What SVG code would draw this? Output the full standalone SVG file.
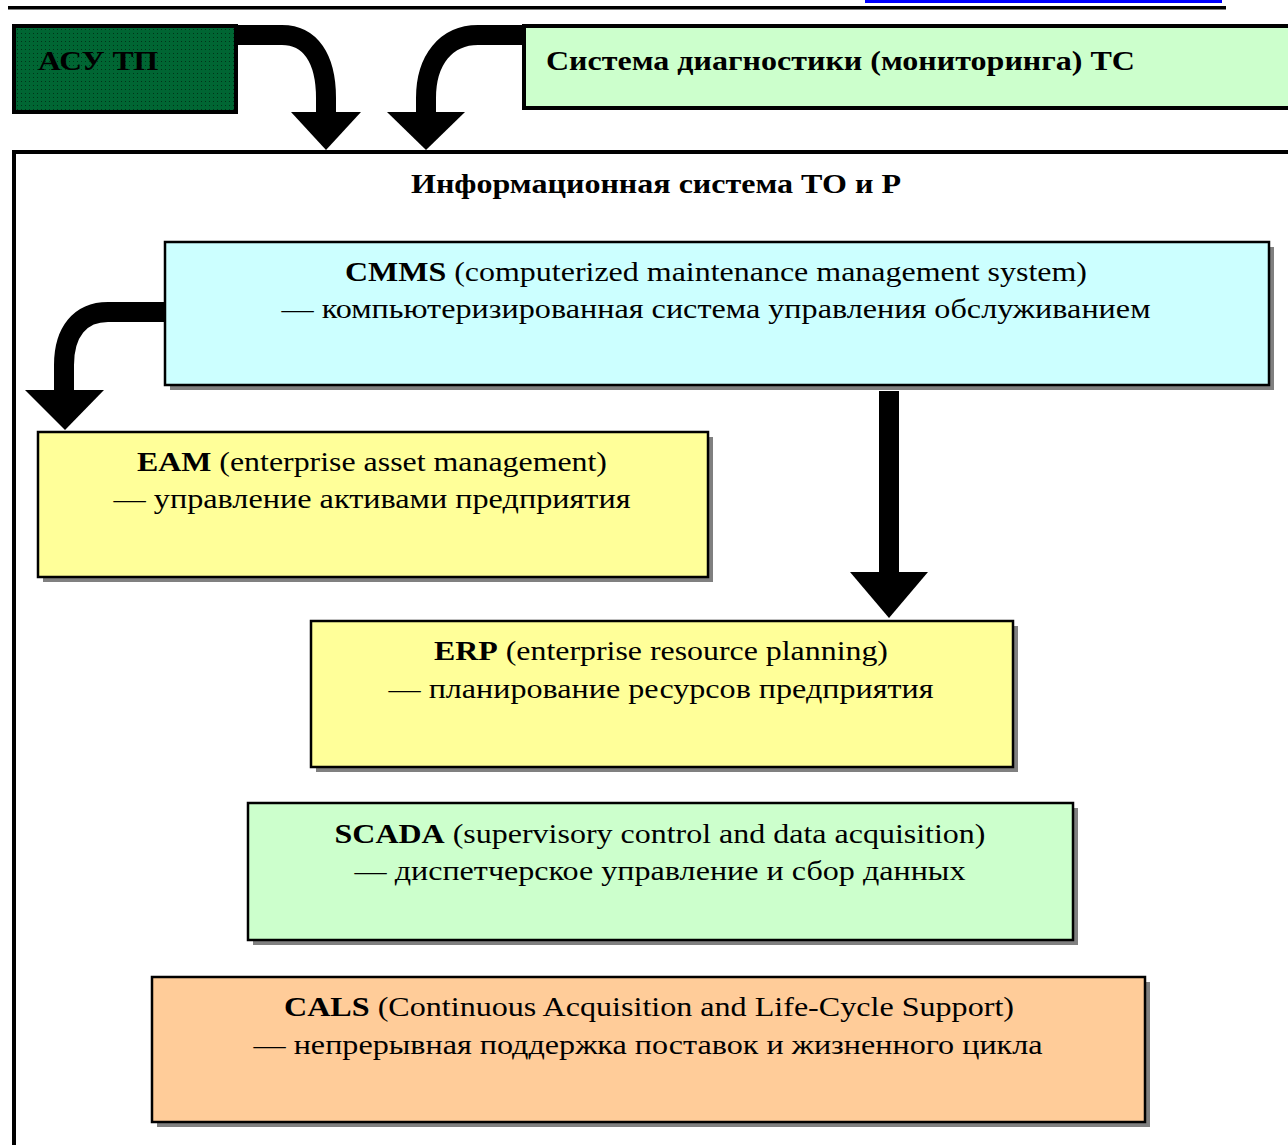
<svg xmlns="http://www.w3.org/2000/svg" width="1288" height="1145" viewBox="0 0 1288 1145">
<style>
.t{font-family:"Liberation Serif","Times New Roman",serif;font-size:28px;fill:#000}
.b{font-weight:bold}
.box{stroke:#000;stroke-width:2.5}
.sh{fill:#808080}
.shaft{fill:none;stroke:#000;stroke-width:20}
.head{fill:#000}
</style>
<defs>
<pattern id="dots" width="4" height="4" patternUnits="userSpaceOnUse">
<rect width="4" height="4" fill="#006633"/>
<rect x="1" y="1" width="1" height="1" fill="#003318"/>
</pattern>
</defs>
<rect x="865" y="0" width="357" height="3" fill="#0000ff"/>
<rect x="8" y="6" width="1218" height="3.5" fill="#000"/>

<g id="container">
<path d="M14,1145 V152 H1288" fill="none" stroke="#000" stroke-width="4"/>
<text class="t b" x="656" y="193" text-anchor="middle" textLength="490" lengthAdjust="spacingAndGlyphs">Информационная система ТО и Р</text>
</g>

<g id="asutp">
<rect x="14" y="26" width="222" height="86" fill="url(#dots)" stroke="#000" stroke-width="4"/>
<text class="t b" x="38" y="70" textLength="120" lengthAdjust="spacingAndGlyphs">АСУ ТП</text>
</g>

<g id="diag">
<rect x="524" y="26" width="770" height="82" fill="#ccffcc" stroke="#000" stroke-width="4"/>
<text class="t b" x="546" y="70" textLength="589" lengthAdjust="spacingAndGlyphs">Система диагностики (мониторинга) ТС</text>
</g>

<g id="cmms">
<rect class="sh" x="170" y="247" width="1104" height="143"/>
<rect class="box" x="165" y="242" width="1104" height="143" fill="#ccffff"/>
<text class="t" x="716" y="281" text-anchor="middle" textLength="742" lengthAdjust="spacingAndGlyphs"><tspan class="b">CMMS</tspan> (computerized maintenance management system)</text>
<text class="t" x="716" y="318" text-anchor="middle" textLength="869" lengthAdjust="spacingAndGlyphs">— компьютеризированная система управления обслуживанием</text>
</g>

<g id="eam">
<rect class="sh" x="43" y="437" width="670" height="145"/>
<rect class="box" x="38" y="432" width="670" height="145" fill="#ffff99"/>
<text class="t" x="372" y="471" text-anchor="middle" textLength="470" lengthAdjust="spacingAndGlyphs"><tspan class="b">EAM</tspan> (enterprise asset management)</text>
<text class="t" x="372" y="508" text-anchor="middle" textLength="517" lengthAdjust="spacingAndGlyphs">— управление активами предприятия</text>
</g>

<g id="erp">
<rect class="sh" x="316" y="626" width="702" height="146"/>
<rect class="box" x="311" y="621" width="702" height="146" fill="#ffff99"/>
<text class="t" x="661" y="660" text-anchor="middle" textLength="454" lengthAdjust="spacingAndGlyphs"><tspan class="b">ERP</tspan> (enterprise resource planning)</text>
<text class="t" x="661" y="698" text-anchor="middle" textLength="545" lengthAdjust="spacingAndGlyphs">— планирование ресурсов предприятия</text>
</g>

<g id="scada">
<rect class="sh" x="253" y="808" width="825" height="137"/>
<rect class="box" x="248" y="803" width="825" height="137" fill="#ccffcc"/>
<text class="t" x="660" y="843" text-anchor="middle" textLength="651" lengthAdjust="spacingAndGlyphs"><tspan class="b">SCADA</tspan> (supervisory control and data acquisition)</text>
<text class="t" x="660" y="880" text-anchor="middle" textLength="611" lengthAdjust="spacingAndGlyphs">— диспетчерское управление и сбор данных</text>
</g>

<g id="cals">
<rect class="sh" x="157" y="982" width="993" height="145"/>
<rect class="box" x="152" y="977" width="993" height="145" fill="#ffcc99"/>
<text class="t" x="649" y="1016" text-anchor="middle" textLength="730" lengthAdjust="spacingAndGlyphs"><tspan class="b">CALS</tspan> (Continuous Acquisition and Life-Cycle Support)</text>
<text class="t" x="648" y="1054" text-anchor="middle" textLength="789" lengthAdjust="spacingAndGlyphs">— непрерывная поддержка поставок и жизненного цикла</text>
</g>

<g id="connectors">
<path class="shaft" d="M237,35 H282 C310,35 326,58 326,98 V114"/>
<path class="head" d="M291,112 H361 L326,150 Z"/>
<path class="shaft" d="M524,35 H478 C446,35 426,60 426,98 V114"/>
<path class="head" d="M387,112 H465 L426,150 Z"/>
<path class="shaft" d="M165,312 H108 C80,312 64,332 64,365 V392"/>
<path class="head" d="M25,390 H104 L65,430 Z"/>
<path class="shaft" d="M889,391 V574"/>
<path class="head" d="M850,572 H928 L889,618 Z"/>
</g>
</svg>
